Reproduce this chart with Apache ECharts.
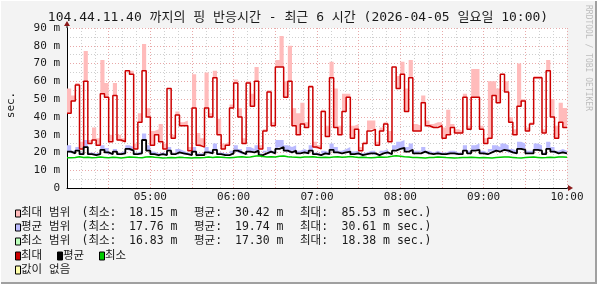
<!DOCTYPE html>
<html><head><meta charset="utf-8">
<script src="https://cdn.jsdelivr.net/npm/echarts@6/dist/echarts.min.js"></script>
<style>html,body{margin:0;padding:0;background:#F3F3F3}#c{width:597px;height:284px}</style>
</head><body><div id="c"></div>
<script>
// ---- data (3-minute steps starting 04:00) ----
const startHour = 4, stepMin = 3, spanMin = 360;
const maxVals = [
 42,49,58,22,60,25,27,24,53,51,26,52,27,26,66,64,22,37,66,40,
 24,30,26,22,56,28,41,35,35,21,45,24,23,45,40,62,30,22,24,45,
 59,40,25,59,46,60,22,32,54,35,68,68,51,60,35,30,36,34,57,23,
 22,43,29,62,34,30,43,51,28,33,21,25,32,33,24,32,36,26,68,56,
 64,43,62,32,32,48,35,34,34,35,28,30,34,31,31,51,33,51,51,33,
 25,28,52,48,64,54,37,30,46,49,32,36,62,62,31,66,40,28,37,34];
const maxHigh = [
 56,52,59,26,77,27,34,28,72,59,30,59,30,28,66,66,25,42,81,45,
 32,33,36,25,56,30,43,37,38,23,64,31,28,65,42,66,39,25,26,47,
 61,45,28,60,53,68,24,33,55,37,72,85.53,60,80,45,42,48,37,58,26,
 24,44,35,71,56,35,53,53,35,36,23,26,38,38,26,34,37,32,68,63,
 71,56,72,36,35,52,38,36,37,37,34,44,36,33,32,53,35,67,67,35,
 28,60,60,56,64,60,40,33,70,50,34,37,63,63,33,72,50,35,48,45];
const avgVals = [
 20.5,19.5,21,19,23,19,18.5,19,21.5,20,19,20.5,19,19.5,22,21,19,19.5,27,21,
 19,18.5,19,18.5,21,19,20,19.5,19,18.5,20.5,18.5,18.5,20,19.5,21.5,19,18.5,18.5,19.5,
 21,20,19,20.5,20,21,18.5,19.5,20.5,19.5,22,23,21,20,21,19.5,20,19.5,21,19,
 18.5,19.5,19,21.5,20,19.5,20,20.5,19,19.5,18.5,19,19.5,19.5,18.5,19.5,20,19,21,22,
 22.5,20.5,21.5,19.5,19.5,20.5,19.5,19,19.5,19,19,19.5,19.5,19,19,21,19.5,21,21.5,19.5,
 19,20,21,20.5,21.5,21,20,19.5,22,21.5,19.5,19.5,21.5,21,19,22,20.5,19.5,20,19.5];
const avgHigh = [
 24,21,23,20,27,20,19.5,20,24,22.5,20,22,20,21,24,23,20,21,30.61,24,
 20.5,19.5,20,19.5,23,20,22,21,20,19.5,23,19.5,19.5,23,21,25,20,19.5,19.5,21,
 24,22,20,23,22,24,19.5,21,23,21,27,27,24,23,24,21,22,21,24,20,
 19.5,21,20,25,23,21,22,23,20.5,21,19.5,20,21,21,19.5,21,22,20,24,26,
 27,23,25,21,21,23,21,20,21,20,20,21,21,20,20,24,21,24,25,21,
 20,22,24,23,25,24,22,21,26,25,21,21,25,24,20,26,23,21,22,21];
const minVals = [
 17.0,17.2,17.6,17.2,17.3,17.0,17.1,17.4,17.2,17.0,17.3,17.1,16.9,17.2,17.5,17.3,17.1,17.0,17.4,17.6,
 17.3,17.1,16.9,17.0,17.2,17.0,17.3,17.1,17.0,16.9,17.2,17.0,17.1,17.4,17.2,17.5,17.3,17.1,17.0,17.2,
 17.4,17.6,17.3,17.5,17.8,18.1,17.7,17.5,17.6,17.4,17.8,18.0,17.6,17.4,17.3,17.2,17.5,17.4,17.6,17.3,
 17.2,17.3,17.1,17.4,17.6,17.3,17.5,17.7,17.4,17.2,17.3,17.1,17.0,17.2,17.4,17.3,17.5,17.8,18.2,17.9,
 17.6,17.4,17.2,17.1,17.0,16.9,17.1,17.2,17.4,17.3,17.1,17.0,16.83,17.0,17.2,17.1,17.3,17.2,17.0,17.1,
 17.0,16.9,17.1,17.3,17.5,17.4,17.2,17.0,16.9,17.1,17.3,17.4,17.2,17.0,17.1,17.3,17.2,17.4,17.5,17.3];
const minHigh = [
 17.4,17.5,17.9,17.5,17.7,17.3,17.4,17.7,17.5,17.3,17.6,17.4,17.3,17.5,17.9,17.6,17.4,17.3,17.8,18.0,
 17.6,17.4,17.2,17.3,17.5,17.3,17.6,17.4,17.3,17.2,17.5,17.3,17.4,17.7,17.5,17.9,17.6,17.4,17.3,17.5,
 17.7,17.9,17.6,17.8,18.1,18.38,18.0,17.8,17.9,17.7,18.1,18.3,17.9,17.7,17.6,17.5,17.8,17.7,17.9,17.6,
 17.5,17.6,17.4,17.7,17.9,17.6,17.8,18.0,17.7,17.5,17.6,17.4,17.3,17.5,17.7,17.6,17.8,18.1,18.38,18.2,
 17.9,17.7,17.5,17.4,17.3,17.2,17.4,17.5,17.7,17.6,17.4,17.3,17.2,17.3,17.5,17.4,17.6,17.5,17.3,17.4,
 17.3,17.2,17.4,17.6,17.8,17.7,17.5,17.3,17.2,17.4,17.6,17.7,17.5,17.3,17.4,17.6,17.5,17.7,17.8,17.6];

const yTickLabels = ['0','10 m','20 m','30 m','40 m','50 m','60 m','70 m','80 m','90 m'];
const xTickLabels = ['05:00','06:00','07:00','08:00','09:00','10:00'];
const titleText = '104.44.11.40 까지의 핑 반응시간 - 최근 6 시간 (2026-04-05 일요일 10:00)';
const yAxisTitle = 'sec.';
const sideText = 'RRDTOOL / TOBI OETIKER';
const rangeNames = ['최대 범위','평균 범위','최소 범위'];
const statMin = ['18.15','17.76','16.83'];
const statAvg = ['30.42','19.74','17.30'];
const statMax = ['85.53','30.61','18.38'];
const lineNames = ['최대','평균','최소'];
const noValueLabel = '값이 없음';

// ---- colours ----
const C = {
  maxBand:'#FFBBBB', avgBand:'#BBBBFF', minBand:'#BBFFBB',
  maxLine:'#CC0000', avgLine:'#000000', minLine:'#00CC00', noVal:'#FFFFAA',
  major:'#E8A8A8', minor:'#CFCFCF', arrow:'#8B1A1A', text:'#1a1a1a'
};
const MONO = "'DejaVu Sans Mono','Noto Sans CJK KR',monospace";

// slot index categories (one extra to close the last step)
const slots = maxVals.map((_, i) => String(i)).concat([String(maxVals.length)]);
function ext(arr){ return arr.concat([arr[arr.length-1]]); }
function diff(hi, lo){ return hi.map((v,i)=>+(v-lo[i]).toFixed(3)); }

function base(name, arr, stack){
  return {name, type:'line', step:'end', stack, data:ext(arr), symbol:'none', silent:true,
    xAxisIndex:0, lineStyle:{width:0, opacity:0}, z:1};
}
function band(name, arr, stack, color){
  return {name, type:'line', step:'end', stack, data:ext(arr), symbol:'none', silent:true,
    xAxisIndex:0, lineStyle:{width:0, opacity:0}, areaStyle:{color, opacity:1}, z:1};
}
function line(name, arr, color, w){
  return {name, type:'line', step:'end', data:ext(arr), symbol:'none', silent:true,
    xAxisIndex:0, lineStyle:{width:w, color}, z:3};
}

const chart = echarts.init(document.getElementById('c'), null, {renderer:'canvas'});
const gridL = 67, gridT = 28, gridR = 30, gridB = 96;

const option = {
  backgroundColor:'#F3F3F3',
  animation:false,
  grid:{left:gridL, top:gridT, right:gridR, bottom:gridB, show:true, backgroundColor:'#FFFFFF', borderWidth:0},
  xAxis:[
    {type:'category', data:slots, boundaryGap:false, show:false},
    {type:'value', min:0, max:spanMin, interval:30, position:'bottom',
    axisLine:{show:true, onZero:false, lineStyle:{color:'#000', width:1}},
    axisTick:{show:false},
    axisLabel:{margin:4, fontFamily:MONO, fontSize:11, color:C.text,
      formatter:v => (v>0 && v%60===0) ? xTickLabels[v/60-1] : ''},
    splitLine:{show:true, lineStyle:{color:C.major, type:[1,2], width:1}},
    minorTick:{show:false, splitNumber:3},
    minorSplitLine:{show:true, lineStyle:{color:C.minor, type:[1,2], width:1}}
  }],
  yAxis:{type:'value', min:0, max:90, interval:10,
    axisLine:{show:true, lineStyle:{color:'#000', width:1}},
    axisTick:{show:false},
    axisLabel:{margin:7, fontFamily:MONO, fontSize:11, color:C.text,
      formatter:v => yTickLabels[Math.round(v/10)]},
    splitLine:{show:true, lineStyle:{color:C.major, type:[1,2], width:1}},
    minorTick:{show:false, splitNumber:2},
    minorSplitLine:{show:true, lineStyle:{color:C.minor, type:[1,2], width:1}}
  },
  series:[
    base('maxBase', maxVals, 'mx'),
    band('maxBand', diff(maxHigh, maxVals), 'mx', C.maxBand),
    base('avgBase', avgVals, 'av'),
    band('avgBand', diff(avgHigh, avgVals), 'av', C.avgBand),
    base('minBase', minVals, 'mn'),
    band('minBand', diff(minHigh, minVals), 'mn', C.minBand),
    line('최대', maxVals, C.maxLine, 1.5),
    line('평균', avgVals, C.avgLine, 1.8),
    line('최소', minVals, C.minLine, 1.5)
  ]
};
chart.setOption(option);

// ---- decorations (title, legend, arrows, frame) ----
const g = [];
function txt(text, x, y, size, align){
  g.push({type:'text', x, y, silent:true, z:10,
    style:{text, fontFamily:MONO, fontSize:size, fill:C.text, textAlign:align||'left', textVerticalAlign:'middle'}});
}
function box(x, y, w, h, color){
  g.push({type:'rect', silent:true, z:10, shape:{x, y, width:w, height:h},
    style:{fill:color, stroke:'#000', lineWidth:1}});
}
txt(titleText, 298, 18, 13, 'center');
g.push({type:'text', x:11, y:105, rotation:Math.PI/2, silent:true, z:10,
  style:{text:yAxisTitle, fontFamily:MONO, fontSize:11, fill:C.text, textAlign:'center', textVerticalAlign:'middle'}});
g.push({type:'text', x:588, y:5, rotation:-Math.PI/2, silent:true, z:10,
  style:{text:sideText, fontFamily:MONO, fontSize:8, fill:'#BDBDBD', textAlign:'left', textVerticalAlign:'middle'}});

const rowsY = [213.5, 227.5, 241.5, 256, 270];
const bandCols = [C.maxBand, C.avgBand, C.minBand];
for (let r=0; r<3; r++){
  const y = rowsY[r];
  box(15.5, y-3.5, 5, 7, bandCols[r]);
  txt(rangeNames[r], 21, y, 11.5);
  txt('(최소:', 81.5, y, 11.5);
  txt(statMin[r]+' m', 129, y, 11.5);
  txt('평균:', 194, y, 11.5);
  txt(statAvg[r]+' m', 235, y, 11.5);
  txt('최대:', 300, y, 11.5);
  txt(statMax[r]+' m sec.)', 341.5, y, 11.5);
}
const lineCols = [C.maxLine, C.avgLine, C.minLine];
const lineX = [15.5, 57.5, 99.5];
for (let k=0; k<3; k++){
  box(lineX[k], rowsY[3]-4, 5, 8, lineCols[k]);
  txt(lineNames[k], lineX[k]+5.5, rowsY[3], 11.5);
}
box(15.5, rowsY[4]-4, 5, 8, C.noVal);
txt(noValueLabel, 21, rowsY[4], 11.5);

// axis arrows
const pTop = chart.convertToPixel({xAxisIndex:1, yAxisIndex:0}, [0, 90]);
const pEnd = chart.convertToPixel({xAxisIndex:1, yAxisIndex:0}, [spanMin, 0]);
g.push({type:'line', silent:true, z:9, shape:{x1:pTop[0], y1:pTop[1], x2:pTop[0], y2:pTop[1]-4}, style:{stroke:'#000', lineWidth:1}});
g.push({type:'polygon', silent:true, z:10, shape:{points:[[pTop[0]-3, pTop[1]-2],[pTop[0]+3, pTop[1]-2],[pTop[0], pTop[1]-7]]}, style:{fill:C.arrow}});
g.push({type:'line', silent:true, z:9, shape:{x1:pEnd[0], y1:pEnd[1], x2:pEnd[0]+3, y2:pEnd[1]}, style:{stroke:'#000', lineWidth:1}});
g.push({type:'polygon', silent:true, z:10, shape:{points:[[pEnd[0]+1, pEnd[1]-3],[pEnd[0]+1, pEnd[1]+3],[pEnd[0]+6, pEnd[1]]]}, style:{fill:C.arrow}});

// frame
g.push({type:'rect', silent:true, z:10, shape:{x:0, y:282, width:597, height:2}, style:{fill:'#A0A0A0'}});
g.push({type:'rect', silent:true, z:10, shape:{x:595, y:0, width:2, height:284}, style:{fill:'#A0A0A0'}});
g.push({type:'rect', silent:true, z:10, shape:{x:0, y:0, width:597, height:1}, style:{fill:'#FFFFFF'}});
g.push({type:'rect', silent:true, z:10, shape:{x:0, y:0, width:1, height:284}, style:{fill:'#FFFFFF'}});

chart.setOption({graphic:g});
</script></body></html>
